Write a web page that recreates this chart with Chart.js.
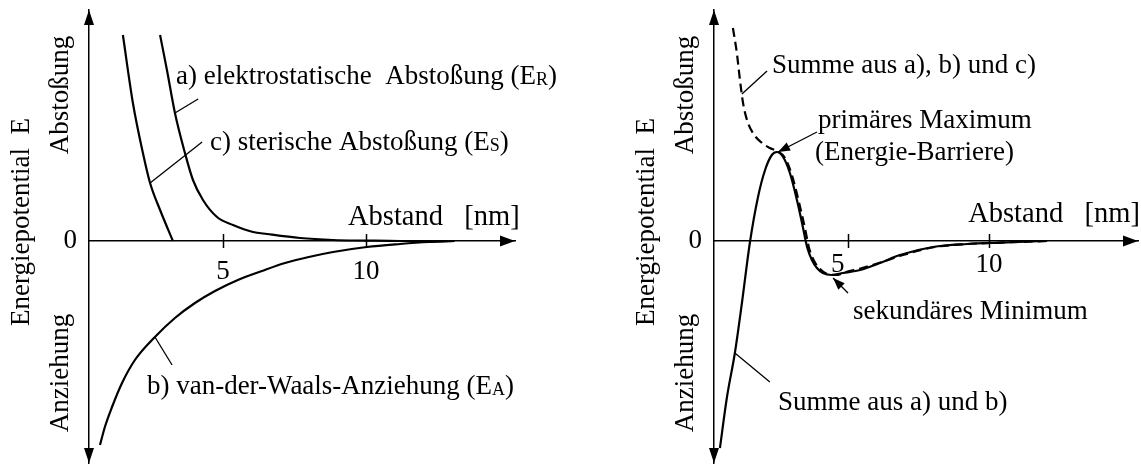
<!DOCTYPE html>
<html>
<head>
<meta charset="utf-8">
<script src="https://cdn.jsdelivr.net/npm/chart.js@4.4.1/dist/chart.umd.min.js"></script>
<style>
  html, body { margin: 0; padding: 0; background: #fff; }
  #wrap { position: relative; width: 1141px; height: 467px; overflow: hidden; }
  #left  { position: absolute; left: 0;     top: 0; }
  #right { position: absolute; left: 620px; top: 0; }
</style>
</head>
<body>
<div id="wrap">
  <canvas id="left" width="620" height="467"></canvas>
  <canvas id="right" width="521" height="467"></canvas>
</div>
<script>
// ---- values: distance in nm, energy in arbitrary units ----
const xTickValues = [5, 10];
const yTickValues = [0];

// a) electrostatic repulsion E_R
const repElecX = [2.80, 3.04, 3.32, 3.67, 3.95, 4.30, 4.79, 5.35, 6.05, 6.54, 7.69, 8.85, 10.03, 11.19, 12.5];
const repElecE = [10.3, 8.55, 6.4, 4.4, 3.05, 2.05, 1.2, 0.8, 0.45, 0.35, 0.15, 0.05, 0.02, 0.0, 0.0];

// c) steric repulsion E_S
const repSterX = [1.50, 1.85, 2.20, 2.45, 2.80, 3.25];
const repSterE = [10.3, 6.9, 4.4, 2.9, 1.55, 0.0];

// b) van der Waals attraction E_A
const attrX = [0.70, 0.87, 1.12, 1.47, 1.92, 2.62, 3.32, 4.02, 4.72, 5.52, 6.36, 7.17, 8.0, 8.85, 10.03, 11.19, 12.2, 13.1];
const attrE = [-10.2, -9.3, -8.3, -7.1, -5.95, -4.8, -3.85, -3.1, -2.5, -1.95, -1.5, -1.1, -0.8, -0.55, -0.3, -0.15, -0.05, 0.0];

// sum of a) and b)
const sumABX = [0.46, 0.71, 0.99, 1.24, 1.52, 1.81, 2.06, 2.30, 2.48, 2.70, 2.94, 3.19, 3.40, 3.55, 3.72, 3.90, 4.11, 4.43, 4.82, 5.43, 6.13, 6.84, 8.01, 9.22, 10.39, 12.06];
const sumABE = [-10.35, -7.8, -5.6, -3.1, -0.1, 2.2, 3.55, 4.3, 4.45, 4.2, 3.4, 2.05, 0.7, -0.3, -0.95, -1.35, -1.6, -1.7, -1.6, -1.45, -1.1, -0.7, -0.3, -0.15, -0.08, 0.0];

// sum of a), b) and c)
const sumABCX = [0.92, 1.06, 1.17, 1.28, 1.42, 1.63, 1.95, 2.23, 2.48, 2.77, 3.01, 3.26, 3.48, 3.62, 3.80, 4.01, 4.26, 4.57, 4.93, 5.50, 6.21, 6.95, 8.09, 9.26, 10.43, 12.06];
const sumABCE = [10.65, 9.4, 8.05, 6.9, 6.05, 5.4, 4.9, 4.65, 4.5, 4.15, 3.3, 1.95, 0.6, -0.35, -1.0, -1.4, -1.65, -1.7, -1.55, -1.35, -1.05, -0.7, -0.3, -0.15, -0.08, 0.0];

// ---- text ----
const axisTitle = 'Energiepotential  E';
const upLabel = 'Abstoßung';
const downLabel = 'Anziehung';
const distLabel = 'Abstand   [nm]';
const leftTexts  = ['a) elektrostatische  Abstoßung (E_R)', 'c) sterische Abstoßung (E_S)', 'b) van-der-Waals-Anziehung (E_A)'];
const rightTexts = ['Summe aus a), b) und c)', 'primäres Maximum', '(Energie-Barriere)', 'sekundäres Minimum', 'Summe aus a) und b)'];

// ---- drawing setup ----
const FONT = '"Liberation Serif", "Times New Roman", serif';
const FS = 27;

const pts = (xs, es) => xs.map((x, i) => ({ x, y: es[i] }));

function curve(xs, es, dash) {
  return {
    data: pts(xs, es),
    borderColor: '#000',
    borderWidth: 2.2,
    borderDash: dash || [],
    pointRadius: 0,
    fill: false,
    cubicInterpolationMode: 'monotone',
    clip: false
  };
}

function drawRich(ctx, str, x, y, size) {
  // "_X" renders X as a subscript
  const fs = size || FS;
  const parts = str.split(/_(\w)/);
  let cx = x;
  parts.forEach((p, i) => {
    if (!p) return;
    const sub = i % 2 === 1;
    ctx.font = (sub ? Math.round(fs * 0.68) : fs) + 'px ' + FONT;
    ctx.fillText(p, cx, y + (sub ? 1 : 0));
    cx += ctx.measureText(p).width;
  });
}

function head(ctx, tx, ty, fx, fy, len, half) {
  const dx = tx - fx, dy = ty - fy, d = Math.hypot(dx, dy);
  const ux = dx / d, uy = dy / d, nx = -uy, ny = ux;
  ctx.beginPath();
  ctx.moveTo(tx, ty);
  ctx.lineTo(tx - ux * len + nx * half, ty - uy * len + ny * half);
  ctx.lineTo(tx - ux * len - nx * half, ty - uy * len - ny * half);
  ctx.closePath();
  ctx.fill();
}

const inkPlugin = {
  id: 'ink',
  afterDraw(chart, args, o) {
    const { ctx, chartArea: ca, scales: { x, y } } = chart;
    const X = v => x.getPixelForValue(v), Y = v => y.getPixelForValue(v);
    const y0 = Y(0), xa = ca.left;
    ctx.save();
    ctx.fillStyle = '#000';
    ctx.strokeStyle = '#000';

    // axis arrowheads
    head(ctx, xa, ca.top, xa, ca.top + 20, 15, 5);
    head(ctx, xa, ca.bottom, xa, ca.bottom - 20, 15, 5);
    head(ctx, ca.right, y0, ca.right - 20, y0, 15, 5.5);

    // tick marks crossing the distance axis
    ctx.lineWidth = 1.5;
    x.ticks.forEach(t => {
      const px = Math.round(X(t.value)) + 0.5;
      ctx.beginPath(); ctx.moveTo(px, y0 - 7); ctx.lineTo(px, y0 + 7); ctx.stroke();
    });

    // leader lines
    ctx.lineWidth = 1.3;
    (o.leaders || []).forEach(l => {
      ctx.beginPath(); ctx.moveTo(X(l[0]), Y(l[1])); ctx.lineTo(X(l[2]), Y(l[3])); ctx.stroke();
    });
    // pointer arrows
    (o.arrows || []).forEach(l => {
      const fx = X(l[0]), fy = Y(l[1]), tx = X(l[2]), ty = Y(l[3]);
      ctx.beginPath(); ctx.moveTo(fx, fy); ctx.lineTo(tx, ty); ctx.stroke();
      head(ctx, tx, ty, fx, fy, 12, 4.5);
    });

    // annotations
    ctx.textAlign = 'left';
    ctx.textBaseline = 'alphabetic';
    (o.notes || []).forEach(n => drawRich(ctx, n.text, X(n.x), Y(n.y), n.size));

    // rotated labels along the energy axis
    ctx.font = FS + 'px ' + FONT;
    ctx.textAlign = 'center';
    ctx.textBaseline = 'middle';
    (o.vertical || []).forEach(v => {
      ctx.save();
      ctx.translate(xa + v.dx, Y(v.y));
      ctx.rotate(-Math.PI / 2);
      ctx.fillText(v.text, 0, 0);
      ctx.restore();
    });
    ctx.restore();
  }
};

function makeChart(id, datasets, xMin, xMax, axisWidth, padRight, tickPad, tickLabel, ink) {
  return new Chart(document.getElementById(id), {
    type: 'line',
    data: { datasets },
    plugins: [inkPlugin],
    options: {
      responsive: false,
      animation: false,
      events: [],
      layout: { padding: { left: 0, right: padRight, top: 10, bottom: 4 } },
      plugins: { legend: { display: false }, tooltip: { enabled: false }, ink },
      scales: {
        x: {
          type: 'linear', min: xMin, max: xMax, position: { y: 0 },
          afterBuildTicks: s => { s.ticks = xTickValues.map(v => ({ value: v })); },
          afterFit: s => { s.height = 0; s.paddingLeft = 0; s.paddingRight = 0; },
          grid: { display: false, drawTicks: false },
          border: { display: true, color: '#000', width: 1.5 },
          ticks: { color: '#000', font: { family: FONT, size: FS }, padding: tickPad, maxRotation: 0, autoSkip: false, callback: tickLabel }
        },
        y: {
          type: 'linear', min: -11.1, max: 11.55, position: 'left',
          afterBuildTicks: s => { s.ticks = yTickValues.map(v => ({ value: v })); },
          afterFit: s => { s.width = axisWidth; s.paddingTop = 0; s.paddingBottom = 0; },
          grid: { display: false, drawTicks: false },
          border: { display: true, color: '#000', width: 1.5 },
          ticks: { color: '#000', font: { family: FONT, size: FS }, padding: 12 }
        }
      }
    }
  });
}

makeChart('left',
  [curve(repElecX, repElecE), curve(repSterX, repSterE), curve(attrX, attrE)],
  0.315, 15.21, 89, 105, 15, v => String(v),
  {
    notes: [
      { text: leftTexts[0], x: 3.357, y: 7.85 },
      { text: leftTexts[1], x: 4.545, y: 4.55 },
      { text: leftTexts[2], x: 2.34, y: -7.65 },
      { text: distLabel, x: 9.37, y: 0.8, size: 28.5 }
    ],
    leaders: [[3.32, 6.4, 4.13, 7.1], [2.45, 2.9, 4.27, 4.95], [2.62, -4.8, 3.22, -6.2]],
    vertical: [
      { text: axisTitle, dx: -67, y: 0.95 },
      { text: upLabel, dx: -28, y: 7.3 },
      { text: downLabel, dx: -28, y: -6.6 }
    ]
  });

makeChart('right',
  [curve(sumABX, sumABE), curve(sumABCX, sumABCE, [9, 5])],
  0.25, 15.28, 94, 3, 8, v => (v === 5 ? '5   ' : String(v)),
  {
    notes: [
      { text: rightTexts[0], x: 2.305, y: 8.4 },
      { text: rightTexts[1], x: 3.94, y: 5.65 },
      { text: rightTexts[2], x: 3.83, y: 4.05 },
      { text: rightTexts[3], x: 5.18, y: -3.9 },
      { text: rightTexts[4], x: 2.52, y: -8.45 },
      { text: distLabel, x: 9.26, y: 0.95, size: 28.5 }
    ],
    leaders: [[1.24, 7.35, 2.13, 8.5], [0.99, -5.6, 2.23, -7.05]],
    arrows: [[3.90, 5.45, 2.52, 4.45], [5.0, -2.6, 4.47, -1.85]],
    vertical: [
      { text: axisTitle, dx: -67, y: 0.95 },
      { text: upLabel, dx: -28, y: 7.3 },
      { text: downLabel, dx: -28, y: -6.6 }
    ]
  });
</script>
</body>
</html>
